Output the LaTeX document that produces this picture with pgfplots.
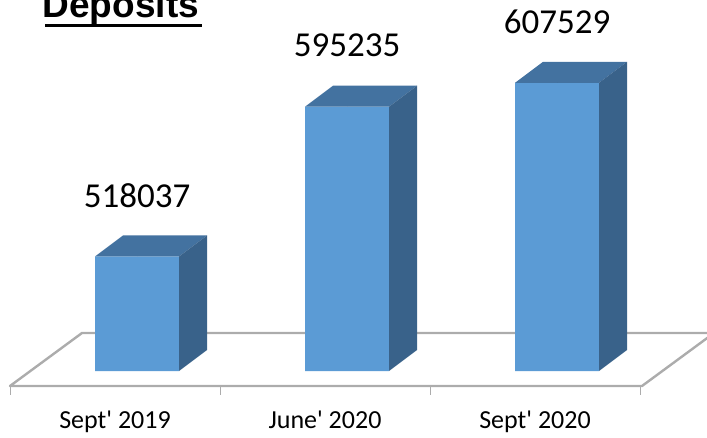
\documentclass[border=0pt]{standalone}
\usepackage{fontspec}
\setmainfont{Liberation Sans}
\newfontfamily\calibri{Carlito}
\usepackage{pgfplots}
\pgfplotsset{compat=1.18}
\definecolor{front}{RGB}{91,155,213}
\definecolor{topface}{RGB}{67,114,160}
\definecolor{sideface}{RGB}{57,98,138}
\definecolor{floorline}{RGB}{172,172,172}
\pgfdeclarelayer{bg}
\pgfsetlayers{bg,main}

\begin{document}
\begin{tikzpicture}
\begin{axis}[
  scale only axis, width=707pt, height=371pt,
  xmin=-0.65238, xmax=2.71429, ymin=459000, ymax=650237,
  axis y line=none, axis x line*=bottom, x axis line style={draw=none},
  xtick={0,1,2},
  xticklabels={{Sept\textquotesingle{} 2019},{June\textquotesingle{} 2020},{Sept\textquotesingle{} 2020}},
  major tick length=0pt,
  xticklabel style={font=\calibri\fontsize{26}{28}\selectfont, anchor=base,
    xshift=-22pt, yshift=-57pt},
]
\coordinate (O) at (axis cs:-0.65238,459000);
% front faces
\addplot[ybar, bar width=84pt, fill=front, draw=none,
  nodes near coords={\pgfmathprintnumber[fixed,precision=0,1000 sep={},assume math mode=true]{\pgfplotspointmeta}},
  every node near coord/.append style={font=\calibri\fontsize{35}{38}\selectfont,
    anchor=center, yshift=61pt, text=black}]
  coordinates {(0,518037) (1,595235) (2,607529)};
% top and side faces
\addplot[only marks, mark=*, mark size=0pt, draw=none, fill=none,
  scatter, point meta=y, point meta min=459000, point meta max=650237,
  scatter/@pre marker code/.code={
    \pgfmathsetmacro\hh{\pgfplotspointmetatransformed*0.371}
    \pgfmathsetmacro\hb{21-\hh}
    \fill[topface] (-42pt,0pt) -- (42pt,0pt) -- (70pt,21pt) -- (-14pt,21pt) -- cycle;
    \fill[sideface] (42pt,0pt) -- (70pt,21pt) -- (70pt,\hb pt) -- (42pt,-\hh pt) -- cycle;
  },
  scatter/@post marker code/.code={}]
  coordinates {(0,518037) (1,595235) (2,607529)};
\end{axis}
\begin{scope}[shift={(O)}, x=1pt, y=1pt]
  \begin{pgfonlayer}{bg}
    % floor of the 3D chart
    \draw[floorline, line width=2.4pt, line join=round]
      (10,-15) -- (642,-15) -- (714,38) -- (82,38) -- cycle;
    \foreach \t in {10,220,430,640}
      \draw[floorline, line width=1pt] (\t,-15) -- (\t,-24);
  \end{pgfonlayer}
  % title
  \node[anchor=base west, inner sep=0pt, font=\fontsize{37}{40}\selectfont\bfseries]
    at (42.5,353) {Deposits};
  \draw[line width=3pt] (45,345.5) -- (202,345.5);
  \pgfresetboundingbox
  \useasboundingbox (0,-66) rectangle (707,371);
\end{scope}
\end{tikzpicture}
\end{document}
